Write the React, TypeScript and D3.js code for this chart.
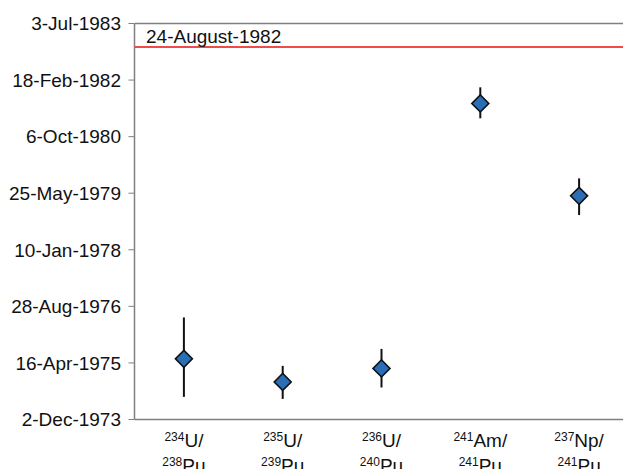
import React from 'react';
import * as d3 from 'd3';

// isotope ratio labels: [superscript, element, superscript, element]
const categories = [
  ['234', 'U/', '238', 'Pu'],
  ['235', 'U/', '239', 'Pu'],
  ['236', 'U/', '240', 'Pu'],
  ['241', 'Am/', '241', 'Pu'],
  ['237', 'Np/', '241', 'Pu'],
];

// model dates, with error bars in days
const centerDates = ['22-May-1975', '30-Oct-1974', '26-Feb-1975', '27-Jul-1981', '2-May-1979'];
const errUpDays = [366, 142, 173, 142, 154];
const errDownDays = [336, 150, 168, 132, 170];

const yTickLabels = [
  '2-Dec-1973', '16-Apr-1975', '28-Aug-1976', '10-Jan-1978',
  '25-May-1979', '6-Oct-1980', '18-Feb-1982', '3-Jul-1983',
];

const refLineDate = '7-Dec-1982';
const refLineLabel = '24-August-1982';

const W = 623;
const H = 469;
const margins = { top: 23.5, left: 134.5, bottom: 49.5 };
const FONT = '"Liberation Sans", Arial, Helvetica, sans-serif';

const parse = d3.timeParse('%d-%b-%Y');
const fmt = (d: Date) => `${d.getDate()}-${d3.timeFormat('%b-%Y')(d)}`;

export default function App() {
  const ticks = yTickLabels.map(t => parse(t) as Date);

  const yScale = d3.scaleTime()
    .domain([ticks[0], ticks[ticks.length - 1]])
    .range([H - margins.bottom, margins.top]);

  const xScale = d3.scaleBand<number>()
    .domain(categories.map((_, i) => i))
    .range([margins.left, margins.left + 5 * 98.8]);

  const points = centerDates.map((c, i) => {
    const d = parse(c) as Date;
    return {
      x: (xScale(i) as number) + xScale.bandwidth() / 2,
      y: yScale(d),
      hi: yScale(d3.timeDay.offset(d, errUpDays[i])),
      lo: yScale(d3.timeDay.offset(d, -errDownDays[i])),
    };
  });

  const diamond = d3.symbol().type(d3.symbolSquare).size(144)() as string;
  const refY = yScale(parse(refLineDate) as Date);
  const bottom = H - margins.bottom;

  return (
    <svg width={W} height={H} style={{ position: 'absolute', left: 0, top: 0, background: '#fff' }}
      fontFamily={FONT}>
      {/* frame: top line, left axis, bottom axis */}
      <line x1={margins.left} x2={W} y1={margins.top} y2={margins.top} stroke="#808080" strokeWidth={1.5} />
      <line x1={margins.left} x2={margins.left} y1={margins.top} y2={bottom} stroke="#808080" strokeWidth={1.5} />
      <line x1={margins.left} x2={W} y1={bottom} y2={bottom} stroke="#808080" strokeWidth={1.5} />

      {ticks.map((t, i) => (
        <g key={i} transform={`translate(0,${yScale(t)})`}>
          <line x1={margins.left - 6} x2={margins.left} stroke="#808080" strokeWidth={1} />
          <text x={121} dy="0.36em" textAnchor="end" fontSize={19} fill="#111">{fmt(t)}</text>
        </g>
      ))}

      {/* reference date */}
      <line x1={margins.left} x2={W} y1={refY} y2={refY} stroke="#ee4b4b" strokeWidth={2} />
      <text x={146} y={refY - 4} fontSize={19} fill="#111">{refLineLabel}</text>

      {points.map((p, i) => (
        <g key={i}>
          <line x1={p.x} x2={p.x} y1={p.hi} y2={p.lo} stroke="#111" strokeWidth={2} />
          <path d={diamond} transform={`translate(${p.x},${p.y}) rotate(45)`}
            fill="#2a6fb6" stroke="#111" strokeWidth={1.6} />
        </g>
      ))}

      {categories.map((c, i) => {
        const cx = (xScale(i) as number) + xScale.bandwidth() / 2;
        return (
          <g key={i} fill="#111">
            <text x={cx} y={bottom + 27} textAnchor="middle">
              <tspan fontSize={12} dy={-6}>{c[0]}</tspan>
              <tspan fontSize={19} dy={6}>{c[1]}</tspan>
            </text>
            <text x={cx} y={bottom + 52} textAnchor="middle">
              <tspan fontSize={12} dy={-6}>{c[2]}</tspan>
              <tspan fontSize={19} dy={6}>{c[3]}</tspan>
            </text>
          </g>
        );
      })}
    </svg>
  );
}
